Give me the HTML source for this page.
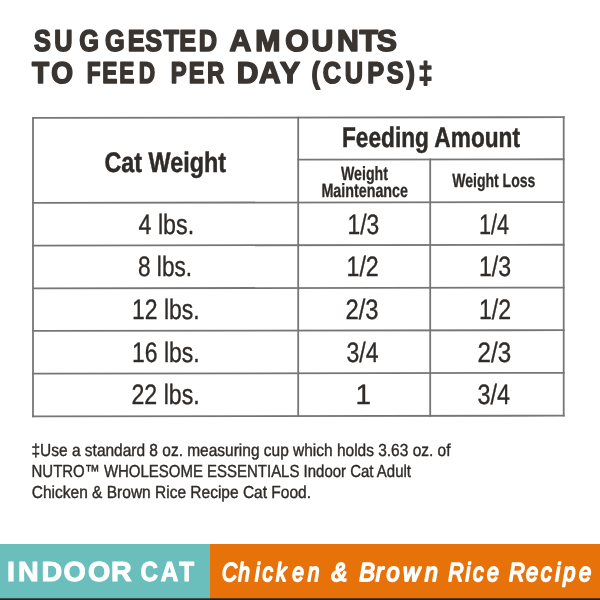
<!DOCTYPE html>
<html><head><meta charset="utf-8"><title>Suggested Amounts to Feed</title>
<style>
html,body{margin:0;padding:0;background:#fff;width:600px;height:600px;overflow:hidden}
svg{display:block}
svg{font-family:"Liberation Sans",Arial,sans-serif;text-rendering:geometricPrecision}
</style></head>
<body>
<svg width="600" height="600" viewBox="0 0 600 600">
<rect width="600" height="600" fill="#fff"/>
<g font-family="Liberation Sans, sans-serif" font-weight="700" font-style="normal" font-size="30.10" fill="#3a3531" stroke="#3a3531" stroke-width="1.6" stroke-linejoin="round">
<text transform="scale(0.8415 1)" x="40.49 64.61 94.05 124.71 151.76 172.69 194.42 212.96 236.16" y="51">SUGGESTED</text>
<text transform="scale(1.0035 1)" x="228.82 254.33 284.18 310.39 335.8 358.18 375.47" y="51">AMOUNTS</text>
<text transform="scale(0.9308 1)" x="34.31 54.96" y="83">TO</text>
<text transform="scale(0.7527 1)" x="115.23 135.69 158.28 184.25" y="83">FEED</text>
<text transform="scale(0.7907 1)" x="215.89 238.71 261.83" y="83">PER</text>
<text transform="scale(0.9968 1)" x="237.55 259.87 280.88" y="83">DAY</text>
<text transform="scale(0.8417 1)" x="370.1 383.57 409.73 436.4 459.63 483.1 497.18" y="83">(CUPS)‡</text>
</g>
<g stroke="#767676" stroke-width="1.8" fill="none" stroke-linecap="square">
<line x1="33.0" y1="117.96" x2="563.7" y2="117.16"/>
<line x1="33.0" y1="202.86" x2="563.7" y2="202.06"/>
<line x1="33.0" y1="245.56" x2="563.7" y2="244.76"/>
<line x1="33.0" y1="288.36" x2="563.7" y2="287.56"/>
<line x1="33.0" y1="330.96" x2="563.7" y2="330.16"/>
<line x1="33.0" y1="373.66" x2="563.7" y2="372.86"/>
<line x1="33.0" y1="416.46" x2="563.7" y2="415.66"/>
<line x1="298.2" y1="159.63" x2="563.7" y2="159.23"/>
<line x1="33.0" y1="117.96" x2="33.0" y2="416.46"/>
<line x1="298.2" y1="117.56" x2="298.2" y2="416.06"/>
<line x1="430.2" y1="159.43" x2="430.2" y2="415.86"/>
<line x1="563.7" y1="117.16" x2="563.7" y2="415.66"/>
</g>
<rect x="0" y="544" width="210" height="56" fill="#6abfbc"/>
<rect x="210" y="544" width="390" height="56" fill="#e7720a"/>
<rect x="0" y="598.3" width="210" height="1.7" fill="#2a2421"/>
<rect x="210" y="598.3" width="390" height="1.7" fill="#1a2129"/>
<g font-family="Liberation Sans, sans-serif" font-weight="700" font-style="normal" font-size="27.50" fill="#ffffff" stroke="#ffffff" stroke-width="1.0" stroke-linejoin="round">
<text transform="scale(1.0425 1)" x="6.78 17.25 39.89 60.88 84.46 106.36" y="581">INDOOR</text>
<text transform="scale(0.884 1)" x="159.02 181.9 202.72" y="581">CAT</text>
</g>
<g font-family="Liberation Sans, sans-serif" font-weight="400" font-style="italic" font-size="26.00" fill="#ffffff" stroke="#ffffff" stroke-width="1.8" stroke-linejoin="round">
<text transform="scale(0.803 1)" x="276.52 296.82 317.46 326.76 343.75 363.91 383.13" y="581">Chicken</text>
<text transform="scale(0.896 1)" x="369.94" y="581">&amp;</text>
<text transform="scale(0.9055 1)" x="396.65 414.88 426.93 445.19 469.13" y="581">Brown</text>
<text transform="scale(0.8193 1)" x="547.14 568.22 577.2 594.5" y="581">Rice</text>
<text transform="scale(0.8427 1)" x="604.09 624.09 641.69 658.92 668.28 686.98" y="581">Recipe</text>
</g>
<text x="104.50" y="172" font-size="28.2" font-weight="700" fill="#2f2b28" stroke="#2f2b28" stroke-width="0.5" stroke-linejoin="round" textLength="121.51" lengthAdjust="spacingAndGlyphs">Cat Weight</text>
<text x="342.00" y="147" font-size="28.2" font-weight="700" fill="#2f2b28" stroke="#2f2b28" stroke-width="0.5" stroke-linejoin="round" textLength="178.01" lengthAdjust="spacingAndGlyphs">Feeding Amount</text>
<text x="341.00" y="179.5" font-size="19.2" font-weight="700" fill="#2f2b28" stroke="#2f2b28" stroke-width="0.3" stroke-linejoin="round" textLength="47.00" lengthAdjust="spacingAndGlyphs">Weight</text>
<text x="321.40" y="196.8" font-size="19.2" font-weight="700" fill="#2f2b28" stroke="#2f2b28" stroke-width="0.3" stroke-linejoin="round" textLength="86.61" lengthAdjust="spacingAndGlyphs">Maintenance</text>
<text x="452.20" y="186.6" font-size="19.2" font-weight="700" fill="#2f2b28" stroke="#2f2b28" stroke-width="0.3" stroke-linejoin="round" textLength="83.20" lengthAdjust="spacingAndGlyphs">Weight Loss</text>
<text x="138.50" y="233.5" font-size="28" fill="#2f2b28" stroke="#2f2b28" stroke-width="0.35" stroke-linejoin="round" textLength="55.61" lengthAdjust="spacingAndGlyphs">4 lbs.</text>
<text x="347.50" y="233.5" font-size="28" fill="#2f2b28" stroke="#2f2b28" stroke-width="0.35" stroke-linejoin="round" textLength="31.73" lengthAdjust="spacingAndGlyphs">1/3</text>
<text x="479.00" y="233.5" font-size="28" fill="#2f2b28" stroke="#2f2b28" stroke-width="0.35" stroke-linejoin="round" textLength="30.10" lengthAdjust="spacingAndGlyphs">1/4</text>
<text x="138.00" y="276.2" font-size="28" fill="#2f2b28" stroke="#2f2b28" stroke-width="0.35" stroke-linejoin="round" textLength="54.09" lengthAdjust="spacingAndGlyphs">8 lbs.</text>
<text x="346.50" y="276.2" font-size="28" fill="#2f2b28" stroke="#2f2b28" stroke-width="0.35" stroke-linejoin="round" textLength="32.26" lengthAdjust="spacingAndGlyphs">1/2</text>
<text x="479.00" y="276.2" font-size="28" fill="#2f2b28" stroke="#2f2b28" stroke-width="0.35" stroke-linejoin="round" textLength="32.14" lengthAdjust="spacingAndGlyphs">1/3</text>
<text x="132.00" y="318.9" font-size="28" fill="#2f2b28" stroke="#2f2b28" stroke-width="0.35" stroke-linejoin="round" textLength="67.68" lengthAdjust="spacingAndGlyphs">12 lbs.</text>
<text x="345.50" y="318.9" font-size="28" fill="#2f2b28" stroke="#2f2b28" stroke-width="0.35" stroke-linejoin="round" textLength="33.09" lengthAdjust="spacingAndGlyphs">2/3</text>
<text x="479.00" y="318.9" font-size="28" fill="#2f2b28" stroke="#2f2b28" stroke-width="0.35" stroke-linejoin="round" textLength="32.14" lengthAdjust="spacingAndGlyphs">1/2</text>
<text x="132.00" y="361.6" font-size="28" fill="#2f2b28" stroke="#2f2b28" stroke-width="0.35" stroke-linejoin="round" textLength="67.68" lengthAdjust="spacingAndGlyphs">16 lbs.</text>
<text x="346.50" y="361.6" font-size="28" fill="#2f2b28" stroke="#2f2b28" stroke-width="0.35" stroke-linejoin="round" textLength="32.05" lengthAdjust="spacingAndGlyphs">3/4</text>
<text x="477.50" y="361.6" font-size="28" fill="#2f2b28" stroke="#2f2b28" stroke-width="0.35" stroke-linejoin="round" textLength="33.61" lengthAdjust="spacingAndGlyphs">2/3</text>
<text x="131.50" y="404.3" font-size="28" fill="#2f2b28" stroke="#2f2b28" stroke-width="0.35" stroke-linejoin="round" textLength="68.15" lengthAdjust="spacingAndGlyphs">22 lbs.</text>
<text x="355.50" y="404.3" font-size="28" fill="#2f2b28" stroke="#2f2b28" stroke-width="0.35" stroke-linejoin="round">1</text>
<text x="477.50" y="404.3" font-size="28" fill="#2f2b28" stroke="#2f2b28" stroke-width="0.35" stroke-linejoin="round" textLength="32.53" lengthAdjust="spacingAndGlyphs">3/4</text>
<text x="31.50" y="456" font-size="17.4" fill="#2f2b28" stroke="#2f2b28" stroke-width="0.4" stroke-linejoin="round" textLength="419.00" lengthAdjust="spacingAndGlyphs">‡Use a standard 8 oz. measuring cup which holds 3.63 oz. of</text>
<text x="31.50" y="477" font-size="17.4" fill="#2f2b28" stroke="#2f2b28" stroke-width="0.4" stroke-linejoin="round" textLength="379.50" lengthAdjust="spacingAndGlyphs">NUTRO™ WHOLESOME ESSENTIALS Indoor Cat Adult</text>
<text x="31.80" y="498" font-size="17.4" fill="#2f2b28" stroke="#2f2b28" stroke-width="0.4" stroke-linejoin="round" textLength="279.20" lengthAdjust="spacingAndGlyphs">Chicken &amp; Brown Rice Recipe Cat Food.</text>
</svg>
</body></html>
